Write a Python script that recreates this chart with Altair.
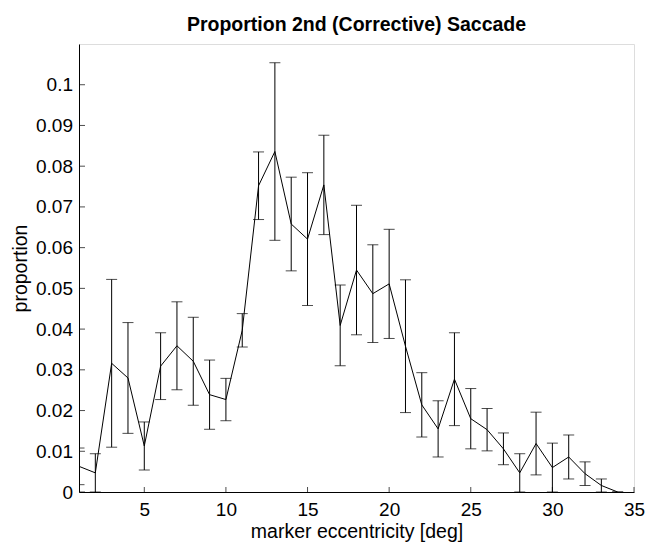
import altair as alt
import pandas as pd

ecc = list(range(1, 35))
prop = [0.0063, 0.0047, 0.0316, 0.0280, 0.0113, 0.0309, 0.0359, 0.0321, 0.0239, 0.0227,
        0.0397, 0.0752, 0.0836, 0.0658, 0.0621, 0.0754, 0.0409, 0.0545, 0.0487, 0.0511,
        0.0358, 0.0214, 0.0155, 0.0277, 0.0180, 0.0153, 0.0106, 0.0047, 0.0119, 0.0060,
        0.0086, 0.0045, 0.0016, 0.0]
err = [0.0045, 0.0047, 0.0206, 0.0136, 0.0059, 0.0082, 0.0108, 0.0108, 0.0085, 0.0052,
       0.0041, 0.0083, 0.0218, 0.0115, 0.0163, 0.0122, 0.0099, 0.0159, 0.0120, 0.0134,
       0.0163, 0.0079, 0.0069, 0.0114, 0.0074, 0.0052, 0.0039, 0.0047, 0.0077, 0.0060,
       0.0054, 0.0029, 0.0016, 0.0]
x_ticks = [5, 10, 15, 20, 25, 30, 35]
y_ticks = [0, 0.01, 0.02, 0.03, 0.04, 0.05, 0.06, 0.07, 0.08, 0.09, 0.1]

df = pd.DataFrame({"ecc": ecc, "prop": prop, "err": err})
df["lo"] = df["prop"] - df["err"]
df["hi"] = df["prop"] + df["err"]

W, H = 555, 448
FONT = "Liberation Sans"

xs = alt.Scale(domain=[1, 35], nice=False, zero=False)
ys = alt.Scale(domain=[0, 0.11], nice=False, zero=False)

xax = alt.Axis(values=x_ticks, ticks=False, grid=False, labelFontSize=19, labelFont=FONT,
               labelColor="black", labelBaseline="alphabetic", labelPadding=23.5,
               domainColor="black", domainWidth=1, title="marker eccentricity [deg]",
               titleFont=FONT, titleFontSize=19.5, titleFontWeight="normal",
               titleColor="black", titleBaseline="alphabetic", titleY=45,
               labelFlush=False, format="d")
yax = alt.Axis(values=y_ticks, ticks=False, grid=False, labelFontSize=19, labelFont=FONT,
               labelColor="black", labelPadding=6.5, domainColor="black", domainWidth=1,
               title="proportion", titleFont=FONT, titleFontSize=19.5,
               titleFontWeight="normal", titleColor="black", titleX=-59,
               titleBaseline="middle", labelFlush=False, format="~g")

base = alt.Chart(df)

line = base.mark_line(color="black", strokeWidth=1, clip=True).encode(
    x=alt.X("ecc:Q", scale=xs, axis=xax),
    y=alt.Y("prop:Q", scale=ys, axis=yax),
)
bars = base.mark_rule(color="black", strokeWidth=1, clip=True).encode(
    x=alt.X("ecc:Q", scale=xs), y=alt.Y("lo:Q", scale=ys), y2="hi:Q"
)
cap_lo = base.mark_tick(color="black", thickness=1, size=11, orient="horizontal",
                        clip=True).encode(
    x=alt.X("ecc:Q", scale=xs), y=alt.Y("lo:Q", scale=ys)
)
cap_hi = base.mark_tick(color="black", thickness=1, size=11, orient="horizontal",
                        clip=True).encode(
    x=alt.X("ecc:Q", scale=xs), y=alt.Y("hi:Q", scale=ys)
)

xt = alt.Chart(pd.DataFrame({"t": x_ticks})).mark_tick(
    color="black", thickness=1, size=5, orient="vertical", yOffset=-2.5
).encode(x=alt.X("t:Q", scale=xs), y=alt.value(H))
yt = alt.Chart(pd.DataFrame({"t": y_ticks})).mark_tick(
    color="black", thickness=1, size=6, orient="horizontal", xOffset=3
).encode(y=alt.Y("t:Q", scale=ys), x=alt.value(0))

chart = alt.layer(line, bars, cap_lo, cap_hi, xt, yt).properties(
    width=W, height=H,
    title=alt.TitleParams("Proportion 2nd (Corrective) Saccade", font=FONT, fontSize=19.5,
                          fontWeight="bold", color="black", anchor="middle",
                          baseline="alphabetic", offset=14, dy=20),
    padding={"left": 79, "top": 44, "right": 13, "bottom": 50},
    autosize="none",
).configure_view(strokeWidth=0, stroke="transparent").configure(background="white")

chart.save("out.html", embed_options={"renderer": "svg", "actions": False})
